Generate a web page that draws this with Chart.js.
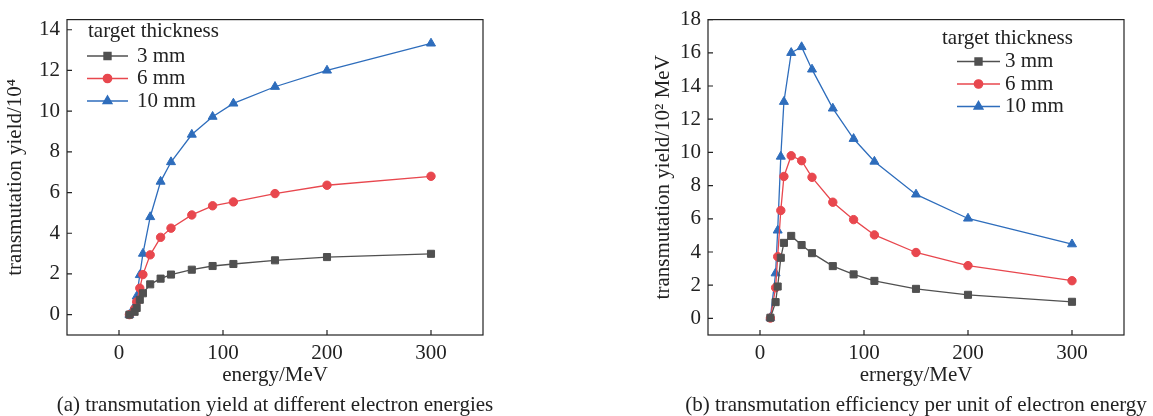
<!DOCTYPE html>
<html>
<head>
<meta charset="utf-8">
<script src="https://cdn.jsdelivr.net/npm/chart.js@4.4.0/dist/chart.umd.min.js"></script>
<style>
  body { margin: 0; background: #fff; width: 1153px; height: 416px; position: relative; overflow: hidden;
         font-family: "Liberation Serif", "Times New Roman", serif; }
  .box { position: absolute; top: 0; height: 416px; }
  .cap { position: absolute; top: 392px; font-size: 21px; line-height: 25px; white-space: nowrap;
         transform: translateX(-50%); color: #222; }
</style>
</head>
<body>
<div class="box" style="left:0"><canvas id="chartA" width="576" height="416"></canvas></div>
<div class="box" style="left:576px"><canvas id="chartB" width="577" height="416"></canvas></div>
<div class="cap" style="left:275px">(a) transmutation yield at different electron energies</div>
<div class="cap" style="left:916px">(b) transmutation efficiency per unit of electron energy</div>

<script>
// electron energy (MeV)
const energy = [10, 15, 17, 20, 23, 30, 40, 50, 70, 90, 110, 150, 200, 300];

// (a) transmutation yield / 10^4
const yield3  = [0.0, 0.14, 0.33, 0.73, 1.05, 1.49, 1.77, 1.97, 2.21, 2.39, 2.49, 2.67, 2.83, 2.99];
const yield6  = [0.0, 0.28, 0.63, 1.30, 1.97, 2.94, 3.80, 4.25, 4.90, 5.35, 5.54, 5.95, 6.36, 6.80];
const yield10 = [0.0, 0.41, 0.90, 1.95, 3.00, 4.80, 6.54, 7.50, 8.85, 9.73, 10.38, 11.20, 12.00, 13.33];

// (b) transmutation yield / 10^2 MeV
const eff3  = [0.04, 0.98, 1.92, 3.65, 4.55, 4.97, 4.42, 3.93, 3.15, 2.65, 2.26, 1.78, 1.42, 1.00];
const eff6  = [0.02, 1.85, 3.72, 6.50, 8.55, 9.80, 9.50, 8.50, 7.00, 5.95, 5.03, 3.97, 3.18, 2.27];
const eff10 = [0.05, 2.72, 5.30, 9.75, 13.05, 16.00, 16.35, 15.00, 12.65, 10.82, 9.45, 7.47, 6.02, 4.47];

const seriesLabels = ['3 mm', '6 mm', '10 mm'];
const xTicks  = [0, 100, 200, 300];
const yTicksA = [0, 2, 4, 6, 8, 10, 12, 14];
const yTicksB = [0, 2, 4, 6, 8, 10, 12, 14, 16, 18];

const colors = ['#505050', '#e8474e', '#2e6dbc'];
const styles = ['rect', 'circle', 'triangle'];
const radii  = [5, 4.2, 5.2];

Chart.defaults.font.family = '"Liberation Serif", "Times New Roman", serif';
Chart.defaults.font.size = 21;
Chart.defaults.color = '#222';

const pts = ys => ys.map((y, i) => ({ x: energy[i], y: y }));

const makeSets = list => list.map((ys, i) => ({
  label: seriesLabels[i],
  data: pts(ys),
  borderColor: colors[i],
  backgroundColor: colors[i],
  pointBackgroundColor: colors[i],
  pointBorderColor: colors[i],
  borderWidth: 1.3,
  pointStyle: styles[i],
  pointRadius: radii[i],
  pointBorderWidth: 1,
  tension: 0
}));

// frame box + inward ticks
const frame = {
  id: 'frame',
  afterDraw(chart) {
    const { ctx, chartArea: a, scales } = chart;
    ctx.save();
    ctx.strokeStyle = '#222';
    ctx.lineWidth = 1.2;
    ctx.strokeRect(a.left, a.top, a.right - a.left, a.bottom - a.top);
    ctx.beginPath();
    scales.x.ticks.forEach(t => {
      const px = scales.x.getPixelForValue(t.value);
      ctx.moveTo(px, a.bottom); ctx.lineTo(px, a.bottom - 5);
    });
    scales.y.ticks.forEach(t => {
      const py = scales.y.getPixelForValue(t.value);
      ctx.moveTo(a.left, py); ctx.lineTo(a.left + 5, py);
    });
    ctx.stroke();
    ctx.restore();
  }
};

// legend drawn in the plot, with title
const boxLegend = {
  id: 'boxLegend',
  afterDraw(chart, args, o) {
    const ctx = chart.ctx;
    ctx.save();
    ctx.font = '21px "Liberation Serif", "Times New Roman", serif';
    ctx.fillStyle = '#222';
    ctx.textBaseline = 'middle';
    ctx.textAlign = 'left';
    ctx.fillText(o.title, o.titleX, o.titleY);
    chart.data.datasets.forEach((ds, i) => {
      const y = o.rows[i];
      ctx.strokeStyle = ds.borderColor;
      ctx.lineWidth = 1.3;
      ctx.beginPath();
      ctx.moveTo(o.lineX0, y); ctx.lineTo(o.lineX1, y);
      ctx.stroke();
      ctx.fillStyle = ds.pointBackgroundColor;
      Chart.helpers.drawPoint(ctx, { pointStyle: ds.pointStyle, radius: ds.pointRadius, rotation: 0, borderWidth: 1 },
        (o.lineX0 + o.lineX1) / 2, y);
      ctx.fillStyle = '#222';
      ctx.fillText(ds.label, o.textX, y);
    });
    ctx.restore();
  }
};

function makeChart(id, sets, yMin, yMax, yTicks, yTitle, xTitle, pad, yWidth, yTitlePad, legend) {
  return new Chart(document.getElementById(id), {
    type: 'line',
    data: { datasets: sets },
    plugins: [frame, boxLegend],
    options: {
      responsive: false,
      animation: false,
      layout: { padding: pad },
      plugins: { legend: { display: false }, tooltip: { enabled: false }, boxLegend: legend },
      scales: {
        x: {
          type: 'linear', min: -50, max: 350,
          afterBuildTicks: s => { s.ticks = xTicks.map(v => ({ value: v })); },
          afterFit: s => { s.height = 53; },
          grid: { display: false, drawTicks: false, tickLength: 0 },
          border: { display: false },
          ticks: { padding: 6, maxRotation: 0 },
          title: { display: true, text: xTitle, padding: 0 }
        },
        y: {
          min: yMin, max: yMax,
          afterBuildTicks: s => { s.ticks = yTicks.map(v => ({ value: v })); },
          afterFit: s => { s.width = yWidth; },
          grid: { display: false, drawTicks: false, tickLength: 0 },
          border: { display: false },
          ticks: { padding: 7 },
          title: { display: true, text: yTitle, padding: { top: yTitlePad, bottom: 0 } }
        }
      }
    }
  });
}

makeChart('chartA', makeSets([yield3, yield6, yield10]), -1, 14.5, yTicksA,
  'transmutation yield/10\u2074', 'energy/MeV',
  { top: 17, right: 93, bottom: 28, left: 0 }, 67, 2.5,
  { title: 'target thickness', titleX: 88, titleY: 31, rows: [56, 78.5, 101], lineX0: 87, lineX1: 128, textX: 137 });

makeChart('chartB', makeSets([eff3, eff6, eff10]), -1, 18, yTicksB,
  'transmutation yield/10\u00b2 MeV', 'ernergy/MeV',
  { top: 17, right: 29, bottom: 28, left: 70 }, 62, 5,
  { title: 'target thickness', titleX: 366, titleY: 38, rows: [61.5, 84, 106.5], lineX0: 381, lineX1: 424, textX: 429 });
</script>
</body>
</html>
